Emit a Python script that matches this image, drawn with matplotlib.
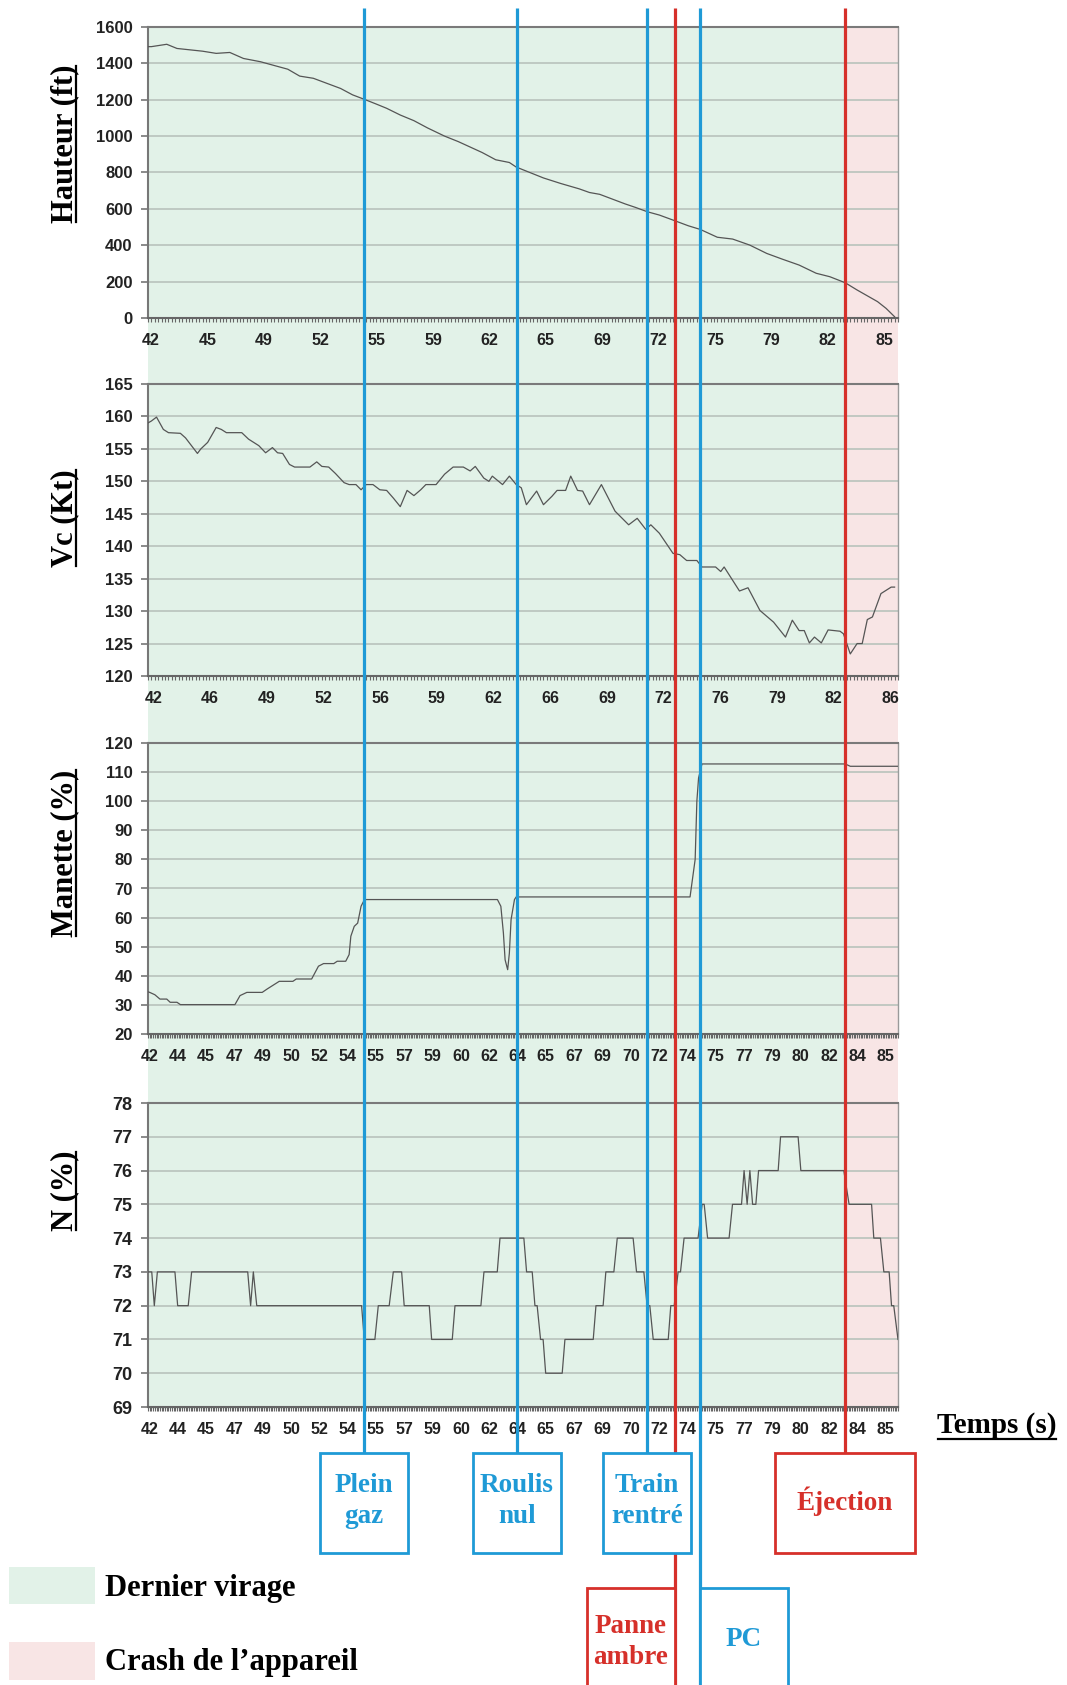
import numpy as np
import matplotlib
matplotlib.use("Agg")
import matplotlib.pyplot as plt
from matplotlib.patches import Rectangle
from matplotlib.lines import Line2D
from matplotlib.transforms import IdentityTransform

W, H, DPI = 1067, 1685, 100

# ---- données (temps en s) ----
hauteur_t = [42.0, 42.2, 43.1, 43.7, 44.6, 45.2, 46.0, 46.8, 47.6, 48.6, 49.3, 50.2, 50.9,
             51.7, 52.5, 53.3, 54.0, 54.7, 55.4, 56.0, 56.8, 57.6, 58.4, 59.4, 60.2, 60.9,
             61.6, 62.4, 63.2, 63.6, 64.4, 65.2, 66.2, 67.3, 67.9, 68.5, 70.0, 70.6, 71.3,
             72.0, 72.9, 73.7, 74.4, 75.4, 76.3, 77.3, 78.3, 79.2, 80.2, 81.2, 82.0, 82.9,
             83.6, 84.8, 85.3, 85.8]
hauteur_ft = [1492, 1492, 1505, 1482, 1473, 1467, 1455, 1460, 1427, 1409, 1391, 1368, 1330,
              1318, 1290, 1262, 1227, 1202, 1176, 1153, 1116, 1085, 1045, 1000, 970, 940,
              910, 870, 855, 830, 800, 770, 740, 710, 690, 680, 627, 608, 584,
              566, 535, 507, 487, 444, 434, 401, 355, 324, 291, 246, 227, 194,
              154, 90, 53, 7]

vc_t = [42.0, 42.2, 42.5, 42.9, 43.2, 43.9, 44.2, 44.9, 45.1, 45.5, 46.0, 46.3, 46.6, 47.5,
        47.9, 48.5, 48.9, 49.3, 49.6, 49.9, 50.3, 50.6, 51.5, 51.9, 52.2, 52.6, 53.0, 53.5,
        53.8, 54.2, 54.5, 54.8, 55.2, 55.6, 56.0, 56.4, 56.8, 57.2, 57.6, 58.0, 58.3, 58.9,
        59.4, 59.9, 60.5, 60.9, 61.2, 61.7, 62.0, 62.2, 62.8, 63.2, 63.6, 63.9, 64.2, 64.8,
        65.2, 65.7, 66.0, 66.5, 66.8, 67.2, 67.5, 67.9, 68.6, 69.4, 70.2, 70.7, 71.2, 71.5,
        72.0, 72.8, 73.2, 73.6, 74.2, 74.5, 75.3, 75.6, 75.8, 76.7, 77.2, 77.9, 78.7, 79.4,
        79.8, 80.2, 80.5, 80.8, 81.1, 81.5, 81.9, 82.6, 82.8, 83.2, 83.6, 83.9, 84.2, 84.5,
        85.0, 85.6, 85.8]
vc_kt = [159.0, 159.3, 159.9, 158.0, 157.5, 157.4, 156.7, 154.3, 155.0, 156.0, 158.3, 158.0,
         157.5, 157.5, 156.5, 155.5, 154.4, 155.2, 154.4, 154.3, 152.6, 152.2, 152.2, 153.0,
         152.3, 152.2, 151.2, 149.8, 149.5, 149.5, 148.7, 149.5, 149.5, 148.7, 148.6, 147.4,
         146.1, 148.6, 147.8, 148.7, 149.5, 149.5, 151.1, 152.2, 152.2, 151.6, 152.3, 150.5,
         150.0, 150.8, 149.5, 150.8, 149.5, 149.0, 146.4, 148.5, 146.4, 147.7, 148.6, 148.6,
         150.8, 148.6, 148.5, 146.4, 149.5, 145.4, 143.3, 144.3, 142.6, 143.3, 142.0, 138.9,
         138.7, 137.8, 137.8, 136.8, 136.8, 136.1, 136.8, 133.1, 133.6, 130.1, 128.3, 126.0,
         128.6, 127.0, 127.0, 125.1, 126.0, 125.1, 127.1, 126.9, 126.5, 123.4, 125.0, 125.0,
         128.7, 129.1, 132.7, 133.7, 133.7]

manette_t = [42.0, 42.1, 42.4, 42.7, 43.1, 43.3, 43.7, 43.9, 47.1, 47.4, 47.8, 48.7, 49.0,
             49.7, 50.5, 50.7, 51.6, 52.0, 52.3, 52.9, 53.1, 53.6, 53.8, 53.9, 54.1, 54.3,
             54.5, 54.7, 62.5, 62.7, 62.85, 62.95, 63.1, 63.2, 63.3, 63.5, 63.6, 73.8, 74.1,
             74.2, 74.3, 74.5, 82.9, 83.2, 86.0]
manette_pct = [34.5, 34.3, 33.5, 32.0, 32.0, 30.9, 30.9, 30.1, 30.1, 33.2, 34.3, 34.3, 35.5,
               38.1, 38.1, 38.9, 38.9, 43.3, 44.2, 44.2, 45.0, 45.0, 47.3, 53.6, 57.0, 58.1,
               63.9, 66.2, 66.2, 63.9, 54.7, 45.5, 42.1, 47.8, 59.3, 66.2, 67.1, 67.1, 80.0,
               100.0, 108.0, 112.8, 112.8, 112.0, 112.0]

n_t = [42.0, 42.22, 42.37, 42.55, 43.58, 43.74, 44.36, 44.56, 47.85, 48.02, 48.18, 48.38,
       54.53, 54.69, 55.31, 55.51, 56.15, 56.39, 56.88, 57.03, 58.50, 58.64, 59.85, 60.01,
       61.53, 61.71, 62.49, 62.65, 64.05, 64.21, 64.54, 64.70, 64.83, 65.03, 65.18, 65.33,
       66.30, 66.46, 68.12, 68.28, 68.70, 68.86, 69.33, 69.53, 70.46, 70.66, 71.09, 71.28,
       71.44, 71.64, 72.52, 72.67, 72.87, 73.10, 73.24, 73.45, 74.27, 74.51, 74.63, 74.83,
       76.09, 76.29, 76.82, 76.97, 77.15, 77.31, 77.47, 77.66, 77.82, 78.97, 79.11, 80.14,
       80.30, 82.82, 83.13, 84.45, 84.58, 84.97, 85.17, 85.48, 85.62, 85.75, 86.0]
n_pct = [73, 73, 72, 73, 73, 72, 72, 73, 73, 72, 73, 72,
         72, 71, 71, 72, 72, 73, 73, 72, 72, 71, 71, 72,
         72, 73, 73, 74, 74, 73, 73, 72, 72, 71, 71, 70,
         70, 71, 71, 72, 72, 73, 73, 74, 74, 73, 73, 72,
         72, 71, 71, 72, 72, 73, 73, 74, 74, 75, 75, 74,
         74, 75, 75, 76, 75, 76, 75, 75, 76, 76, 77, 77,
         76, 76, 75, 75, 74, 74, 73, 73, 72, 72, 71]

labels_hauteur = ["42", "45", "49", "52", "55", "59", "62", "65", "69", "72", "75", "79", "82", "85"]
labels_vc = ["42", "46", "49", "52", "56", "59", "62", "66", "69", "72", "76", "79", "82", "86"]
labels_fin = ["42", "44", "45", "47", "49", "50", "52", "54", "55", "57", "59", "60", "62", "64",
              "65", "67", "69", "70", "72", "74", "75", "77", "79", "80", "82", "84", "85"]

# événements (s)
ev_plein_gaz = 54.67
ev_roulis = 63.64
ev_train = 71.27
ev_panne = 72.91
ev_pc = 74.38
ev_ejection = 82.88

T0, T1 = 42.0, 86.0
BLEU = "#1f9ad6"
ROUGE = "#d6302a"
VERT_FOND = "#e2f2e8"
ROSE_FOND = "#f8e5e5"
SERIF = ["Liberation Serif", "DejaVu Serif"]
SANS = ["Liberation Sans", "DejaVu Sans"]


def rect(x0, y0, x1, y1):
    """rectangle en pixels (origine en haut à gauche) -> coordonnées figure."""
    return [x0 / W, 1 - y1 / H, (x1 - x0) / W, (y1 - y0) / H]


fig = plt.figure(figsize=(W / DPI, H / DPI), dpi=DPI)
fig.patch.set_facecolor("white")

# fond vert / rose commun aux 4 graphes
bg = fig.add_axes(rect(148, 27, 898, 1409), zorder=0)
bg.set_xlim(T0, T1)
bg.axvspan(T0, ev_ejection, color=VERT_FOND, lw=0)
bg.axvspan(ev_ejection, T1, color=ROSE_FOND, lw=0)
bg.axis("off")

panneaux = [
    # (y haut, y bas, t, valeurs, ylim, pas, étiquettes x, pos. étiq., pas mineur, titre, centre titre, taille y)
    (27, 318, hauteur_t, hauteur_ft, (0, 1600), 200, labels_hauteur, (42.18, 85.19), 0.2, "Hauteur (ft)", 144, 12),
    (384, 676, vc_t, vc_kt, (120, 165), 5, labels_vc, (42.32, 85.56), 0.2, "Vc (Kt)", 518, 12),
    (743, 1034, manette_t, manette_pct, (20, 120), 10, labels_fin, (42.08, 85.28), 0.1, "Manette (%)", 853, 12),
    (1103, 1407, n_t, n_pct, (69, 78), 1, labels_fin, (42.08, 85.28), 0.1, "N (%)", 1191, 13),
]

titres = []
for (ytop, ybot, t, v, ylim, pas, labs, (p0, p1), mineur, titre, yc, fs) in panneaux:
    ax = fig.add_axes(rect(148, ytop, 898, ybot), zorder=1)
    ax.set_facecolor("none")
    ax.plot(t, v, color="#555555", lw=0.9, zorder=3)
    ax.set_xlim(T0, T1)
    ax.set_ylim(*ylim)
    ax.set_yticks(np.arange(ylim[0], ylim[1] + pas / 2, pas))
    ax.grid(axis="y", color="#b9c3bc", lw=1.2, zorder=1)
    ax.set_xticks(np.linspace(p0, p1, len(labs)))
    ax.set_xticklabels(labs)
    ax.set_xticks(np.arange(T0, T1 + 0.01, mineur), minor=True)
    ax.tick_params(axis="x", which="major", length=0, pad=11, labelsize=11.5, labelcolor="#222222")
    ax.tick_params(axis="x", which="minor", length=3, width=0.8, color="#666666", direction="out")
    ax.tick_params(axis="y", length=5, width=1.2, color="#777777", pad=6, labelsize=fs,
                   labelcolor="#222222")
    for lab in ax.get_xticklabels() + ax.get_yticklabels():
        lab.set_fontfamily(SANS)
        lab.set_fontweight("bold")
    ax.spines["left"].set_color("#777777")
    ax.spines["left"].set_linewidth(1.5)
    ax.spines["bottom"].set_color("#666666")
    ax.spines["bottom"].set_linewidth(1.5)
    ax.spines["top"].set_color("#7a7a7a")
    ax.spines["top"].set_linewidth(1.5)
    ax.spines["right"].set_color("#9a9a9a")
    ax.spines["right"].set_linewidth(1.0)
    titres.append((titre, yc))

# calque page en pixels
page = fig.add_axes([0, 0, 1, 1], zorder=2)
page.set_xlim(0, W)
page.set_ylim(H, 0)
page.axis("off")
page.set_facecolor("none")

soulignes = []
for titre, yc in titres:
    txt = page.text(72, yc, titre, rotation=90, rotation_mode="anchor", ha="center",
                    va="baseline", fontsize=22, fontweight="bold", family=SERIF)
    soulignes.append((txt, "v", 75.5))

txt = page.text(937, 1433, "Temps (s)", ha="left", va="baseline", fontsize=21,
                fontweight="bold", family=SERIF)
soulignes.append((txt, "h", 1439))

# légende
page.add_patch(Rectangle((9, 1567), 86, 37, facecolor=VERT_FOND, lw=0))
page.add_patch(Rectangle((9, 1642), 86, 38, facecolor=ROSE_FOND, lw=0))
page.text(105, 1596, "Dernier virage", ha="left", va="baseline", fontsize=22,
          fontweight="bold", family=SERIF)
page.text(105, 1670, "Crash de l\u2019appareil", ha="left", va="baseline", fontsize=22,
          fontweight="bold", family=SERIF)

# lignes d'événements et encadrés
ov = fig.add_axes(rect(148, 0, 898, H), zorder=4)
ov.set_xlim(T0, T1)
ov.set_ylim(H, 0)
ov.axis("off")
ov.set_facecolor("none")

LW = 2.3
BOX_W = 5.15
ov.vlines([ev_plein_gaz, ev_roulis, ev_train], 8, 1453, color=BLEU, lw=LW, clip_on=False)
ov.vlines([ev_pc], 8, H, color=BLEU, lw=LW, clip_on=False)
ov.vlines([ev_panne], 8, H, color=ROUGE, lw=LW, clip_on=False)
ov.vlines([ev_ejection], 8, 1453, color=ROUGE, lw=LW, clip_on=False)


def encadre(x0, largeur, y0, hauteur, texte, couleur, yt):
    ov.add_patch(Rectangle((x0, y0), largeur, hauteur, facecolor="white", edgecolor=couleur,
                           lw=2, clip_on=False, zorder=5))
    ov.text(x0 + largeur / 2, yt, texte, ha="center", va="center", color=couleur,
            fontsize=19.5, fontweight="bold", family=SERIF, linespacing=1.3, zorder=6,
            clip_on=False)


encadre(ev_plein_gaz - BOX_W / 2, BOX_W, 1453, 100, "Plein\ngaz", BLEU, 1501)
encadre(ev_roulis - BOX_W / 2, BOX_W, 1453, 100, "Roulis\nnul", BLEU, 1501)
encadre(ev_train - BOX_W / 2, BOX_W, 1453, 100, "Train\nrentr\u00e9", BLEU, 1501)
encadre(ev_ejection - 8.2 / 2, 8.2, 1453, 100, "\u00c9jection", ROUGE, 1501)
encadre(ev_panne - BOX_W, BOX_W, 1588, 110, "Panne\nambre", ROUGE, 1642)
encadre(ev_pc, BOX_W, 1588, 110, "PC", BLEU, 1640)

# soulignements des titres
fig.canvas.draw()
rend = fig.canvas.get_renderer()
for txt, sens, pos in soulignes:
    bb = txt.get_window_extent(rend)
    if sens == "v":
        fig.add_artist(Line2D([pos, pos], [bb.y0 + 1, bb.y1 - 1], transform=IdentityTransform(),
                              color="black", lw=1.6))
    else:
        y = H - pos
        fig.add_artist(Line2D([bb.x0 + 1, bb.x1 - 1], [y, y], transform=IdentityTransform(),
                              color="black", lw=1.6))

fig.savefig("out.png", dpi=DPI)
